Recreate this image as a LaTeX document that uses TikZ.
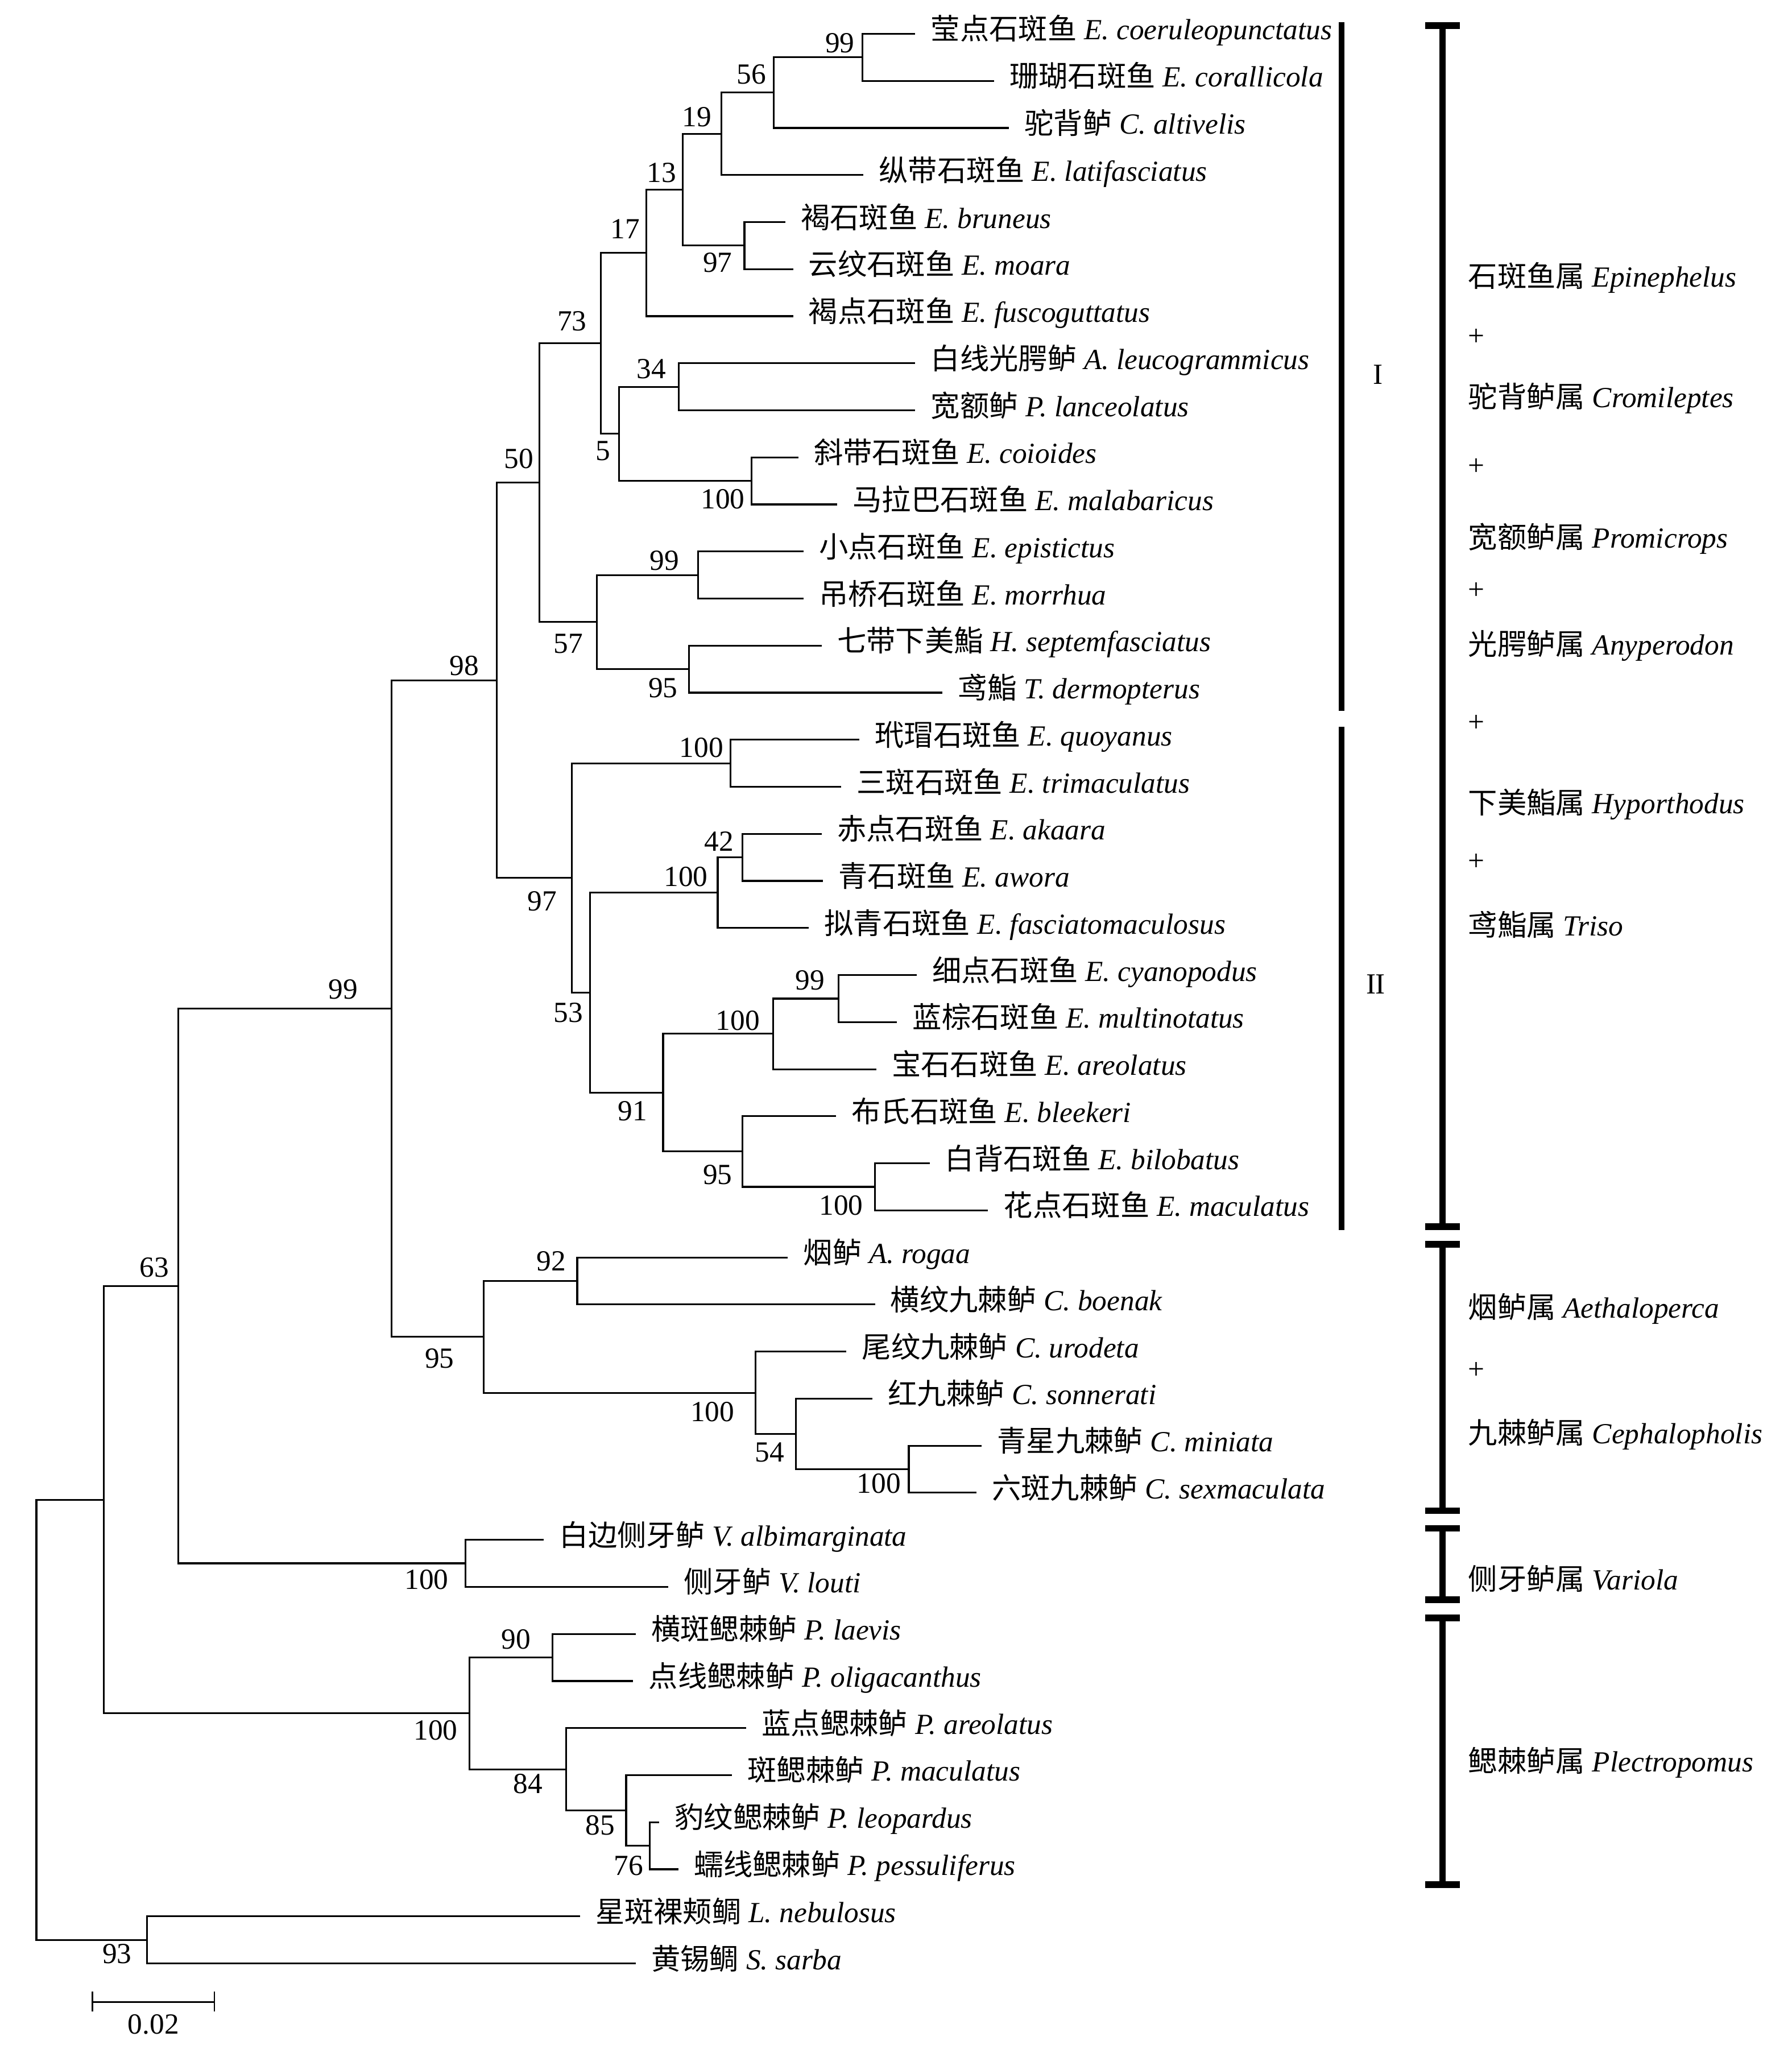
\documentclass[tikz,border=0pt]{standalone}
\usepackage{fontspec}
\setmainfont{Liberation Serif}
\newfontfamily\cjk{Noto Sans CJK SC}
\newcommand{\taxon}[2]{{\cjk #1} \textit{#2}}
\begin{document}
\begin{tikzpicture}[x=0.022859cm, y=-0.022859cm,
  every node/.style={font=\fontsize{14.6pt}{17pt}\selectfont},
  br/.style={line width=0.9pt},
  leaf/.style={anchor=west, inner xsep=7.6pt, inner ysep=0pt, text height=0.8em, text depth=0.2em},
  bs/.style={inner sep=0pt},
  genus/.style={anchor=west, inner sep=0pt, text height=0.8em, text depth=0.2em},
  cladebar/.style={line width=2.85pt},
  genbar/.style={line width=3.1pt},
  capline/.style={line width=3.3pt}]
\useasboundingbox (0,0) rectangle (1378,1573);

% ---------- leaves ----------
\node[leaf] (L1) at (704,26) {\taxon{莹点石斑鱼}{E. coeruleopunctatus}};
\node[leaf] (L2) at (764.5,62.2) {\taxon{珊瑚石斑鱼}{E. corallicola}};
\node[leaf] (L3) at (776,98.4) {\taxon{驼背鲈}{C. altivelis}};
\node[leaf] (L4) at (664,134.6) {\taxon{纵带石斑鱼}{E. latifasciatus}};
\node[leaf] (L5) at (604,170.8) {\taxon{褐石斑鱼}{E. bruneus}};
\node[leaf] (L6) at (610,207) {\taxon{云纹石斑鱼}{E. moara}};
\node[leaf] (L7) at (610,243.2) {\taxon{褐点石斑鱼}{E. fuscoguttatus}};
\node[leaf] (L8) at (704,279.4) {\taxon{白线光腭鲈}{A. leucogrammicus}};
\node[leaf] (L9) at (704,315.6) {\taxon{宽额鲈}{P. lanceolatus}};
\node[leaf] (L10) at (614,351.8) {\taxon{斜带石斑鱼}{E. coioides}};
\node[leaf] (L11) at (644,388) {\taxon{马拉巴石斑鱼}{E. malabaricus}};
\node[leaf] (L12) at (618,424.2) {\taxon{小点石斑鱼}{E. epistictus}};
\node[leaf] (L13) at (618,460.4) {\taxon{吊桥石斑鱼}{E. morrhua}};
\node[leaf] (L14) at (632,496.6) {\taxon{七带下美鮨}{H. septemfasciatus}};
\node[leaf] (L15) at (725,532.8) {\taxon{鸢鮨}{T. dermopterus}};
\node[leaf] (L16) at (661,569) {\taxon{玳瑁石斑鱼}{E. quoyanus}};
\node[leaf] (L17) at (647,605.2) {\taxon{三斑石斑鱼}{E. trimaculatus}};
\node[leaf] (L18) at (632,641.4) {\taxon{赤点石斑鱼}{E. akaara}};
\node[leaf] (L19) at (633,677.6) {\taxon{青石斑鱼}{E. awora}};
\node[leaf] (L20) at (622,713.8) {\taxon{拟青石斑鱼}{E. fasciatomaculosus}};
\node[leaf] (L21) at (705,750) {\taxon{细点石斑鱼}{E. cyanopodus}};
\node[leaf] (L22) at (690,786.2) {\taxon{蓝棕石斑鱼}{E. multinotatus}};
\node[leaf] (L23) at (674,822.4) {\taxon{宝石石斑鱼}{E. areolatus}};
\node[leaf] (L24) at (643,858.6) {\taxon{布氏石斑鱼}{E. bleekeri}};
\node[leaf] (L25) at (715,894.8) {\taxon{白背石斑鱼}{E. bilobatus}};
\node[leaf] (L26) at (760,931) {\taxon{花点石斑鱼}{E. maculatus}};
\node[leaf] (L27) at (606,967.2) {\taxon{烟鲈}{A. rogaa}};
\node[leaf] (L28) at (673,1003.4) {\taxon{横纹九棘鲈}{C. boenak}};
\node[leaf] (L29) at (651,1039.6) {\taxon{尾纹九棘鲈}{C. urodeta}};
\node[leaf] (L30) at (671,1075.8) {\taxon{红九棘鲈}{C. sonnerati}};
\node[leaf] (L31) at (755,1112) {\taxon{青星九棘鲈}{C. miniata}};
\node[leaf] (L32) at (751,1148.2) {\taxon{六斑九棘鲈}{C. sexmaculata}};
\node[leaf] (L33) at (418,1184.4) {\taxon{白边侧牙鲈}{V. albimarginata}};
\node[leaf] (L34) at (514,1220.6) {\taxon{侧牙鲈}{V. louti}};
\node[leaf] (L35) at (489,1256.8) {\taxon{横斑鳃棘鲈}{P. laevis}};
\node[leaf] (L36) at (487,1293) {\taxon{点线鳃棘鲈}{P. oligacanthus}};
\node[leaf] (L37) at (574,1329.2) {\taxon{蓝点鳃棘鲈}{P. areolatus}};
\node[leaf] (L38) at (563,1365.4) {\taxon{斑鳃棘鲈}{P. maculatus}};
\node[leaf] (L39) at (507,1401.6) {\taxon{豹纹鳃棘鲈}{P. leopardus}};
\node[leaf] (L40) at (522,1437.8) {\taxon{蠕线鳃棘鲈}{P. pessuliferus}};
\node[leaf] (L41) at (446,1474) {\taxon{星斑裸颊鲷}{L. nebulosus}};
\node[leaf] (L42) at (489,1510.2) {\taxon{黄锡鲷}{S. sarba}};

% ---------- internal nodes ----------
\coordinate (n1) at (663.4,44.1);
\coordinate (n2) at (595,71.25);
\coordinate (n3) at (555,102.9);
\coordinate (n4) at (572.6,188.9);
\coordinate (n5) at (525,145.9);
\coordinate (n6) at (497,194.6);
\coordinate (n7) at (522,297.5);
\coordinate (n8) at (578,369.9);
\coordinate (n9) at (476,333.7);
\coordinate (n10) at (462,264.1);
\coordinate (n11) at (537,442.3);
\coordinate (n12) at (530,514.7);
\coordinate (n13) at (459,478.5);
\coordinate (nI) at (415,371.3);
\coordinate (nA) at (562,587.1);
\coordinate (nB) at (571,659.5);
\coordinate (nC) at (552,686.6);
\coordinate (nD) at (645,768.1);
\coordinate (nE) at (594.5,795.2);
\coordinate (nF) at (673,912.9);
\coordinate (nG) at (571,885.7);
\coordinate (nH) at (510,840.5);
\coordinate (nJ) at (454,763.5);
\coordinate (nII) at (440,675.3);
\coordinate (nEpi) at (382,523.3);
\coordinate (nK) at (444,985.3);
\coordinate (nL) at (699,1130.1);
\coordinate (nM) at (612,1103);
\coordinate (nN) at (581,1071.3);
\coordinate (nO) at (372,1028.3);
\coordinate (nP) at (301,775.8);
\coordinate (nQ) at (358,1202.5);
\coordinate (nR) at (137,989.2);
\coordinate (nS) at (425,1274.9);
\coordinate (nT) at (499.6,1419.7);
\coordinate (nU) at (481.6,1392.6);
\coordinate (nV) at (435.6,1360.9);
\coordinate (nW) at (361,1317.9);
\coordinate (nX) at (80,1153.6);
\coordinate (nY) at (113,1492.1);
\coordinate (root) at (28,1322.9);

% ---------- branches ----------
\draw[br] (n1) |- (L1.west);  \draw[br] (n1) |- (L2.west);
\draw[br] (n2) |- (n1);       \draw[br] (n2) |- (L3.west);
\draw[br] (n3) |- (n2);       \draw[br] (n3) |- (L4.west);
\draw[br] (n4) |- (L5.west);  \draw[br] (n4) |- (L6.west);
\draw[br] (n5) |- (n3);       \draw[br] (n5) |- (n4);
\draw[br] (n6) |- (n5);       \draw[br] (n6) |- (L7.west);
\draw[br] (n7) |- (L8.west);  \draw[br] (n7) |- (L9.west);
\draw[br] (n8) |- (L10.west); \draw[br] (n8) |- (L11.west);
\draw[br] (n9) |- (n7);       \draw[br] (n9) |- (n8);
\draw[br] (n10) |- (n6);      \draw[br] (n10) |- (n9);
\draw[br] (n11) |- (L12.west); \draw[br] (n11) |- (L13.west);
\draw[br] (n12) |- (L14.west); \draw[br] (n12) |- (L15.west);
\draw[br] (n13) |- (n11);     \draw[br] (n13) |- (n12);
\draw[br] (nI) |- (n10);      \draw[br] (nI) |- (n13);
\draw[br] (nA) |- (L16.west); \draw[br] (nA) |- (L17.west);
\draw[br] (nB) |- (L18.west); \draw[br] (nB) |- (L19.west);
\draw[br] (nC) |- (nB);       \draw[br] (nC) |- (L20.west);
\draw[br] (nD) |- (L21.west); \draw[br] (nD) |- (L22.west);
\draw[br] (nE) |- (nD);       \draw[br] (nE) |- (L23.west);
\draw[br] (nF) |- (L25.west); \draw[br] (nF) |- (L26.west);
\draw[br] (nG) |- (L24.west); \draw[br] (nG) |- (nF);
\draw[br] (nH) |- (nE);       \draw[br] (nH) |- (nG);
\draw[br] (nJ) |- (nC);       \draw[br] (nJ) |- (nH);
\draw[br] (nII) |- (nA);      \draw[br] (nII) |- (nJ);
\draw[br] (nEpi) |- (nI);     \draw[br] (nEpi) |- (nII);
\draw[br] (nK) |- (L27.west); \draw[br] (nK) |- (L28.west);
\draw[br] (nL) |- (L31.west); \draw[br] (nL) |- (L32.west);
\draw[br] (nM) |- (L30.west); \draw[br] (nM) |- (nL);
\draw[br] (nN) |- (L29.west); \draw[br] (nN) |- (nM);
\draw[br] (nO) |- (nK);       \draw[br] (nO) |- (nN);
\draw[br] (nP) |- (nEpi);     \draw[br] (nP) |- (nO);
\draw[br] (nQ) |- (L33.west); \draw[br] (nQ) |- (L34.west);
\draw[br] (nR) |- (nP);       \draw[br] (nR) |- (nQ);
\draw[br] (nS) |- (L35.west); \draw[br] (nS) |- (L36.west);
\draw[br] (nT) |- (L39.west); \draw[br] (nT) |- (L40.west);
\draw[br] (nU) |- (L38.west); \draw[br] (nU) |- (nT);
\draw[br] (nV) |- (L37.west); \draw[br] (nV) |- (nU);
\draw[br] (nW) |- (nS);       \draw[br] (nW) |- (nV);
\draw[br] (nX) |- (nR);       \draw[br] (nX) |- (nW);
\draw[br] (nY) |- (L41.west); \draw[br] (nY) |- (L42.west);
\draw[br] (root) |- (nX);     \draw[br] (root) |- (nY);

% ---------- bootstrap values ----------
\node[bs] (b1) at (646,33) {99};
\node[bs] (b2) at (578,57) {56};
\node[bs] (b3) at (536,90) {19};
\node[bs] (b4) at (552,202) {97};
\node[bs] (b5) at (509,133) {13};
\node[bs] (b6) at (481,176) {17};
\node[bs] (b7) at (501,284) {34};
\node[bs] (b8) at (556,384) {100};
\node[bs] (b9) at (464,347) {5};
\node[bs] (b10) at (440,247) {73};
\node[bs] (b11) at (511,431) {99};
\node[bs] (b12) at (510,529) {95};
\node[bs] (b13) at (437,495) {57};
\node[bs] (bI) at (399,353) {50};
\node[bs] (bA) at (539.5,575) {100};
\node[bs] (bB) at (553,647) {42};
\node[bs] (bC) at (527.5,674.5) {100};
\node[bs] (bII) at (417,693) {97};
\node[bs] (bJ) at (437,779) {53};
\node[bs] (bD) at (623,754) {99};
\node[bs] (bE) at (567.5,785) {100};
\node[bs] (bH) at (486.5,854.5) {91};
\node[bs] (bG) at (552,903.5) {95};
\node[bs] (bF) at (647,927) {100};
\node[bs] (bEpi) at (357,512) {98};
\node[bs] (bK) at (424,970) {92};
\node[bs] (bL) at (676,1141) {100};
\node[bs] (bM) at (592,1117) {54};
\node[bs] (bN) at (548,1086) {100};
\node[bs] (bO) at (338,1045) {95};
\node[bs] (bP) at (264,761) {99};
\node[bs] (bQ) at (328,1215) {100};
\node[bs] (bR) at (118.6,975) {63};
\node[bs] (bS) at (397,1261) {90};
\node[bs] (bV) at (406,1372) {84};
\node[bs] (bU) at (461.5,1404) {85};
\node[bs] (bT) at (483.6,1435) {76};
\node[bs] (bW) at (335,1331) {100};
\node[bs] (bY) at (90,1503) {93};

% ---------- scale bar ----------
\draw[br] (71,1540) -- (165,1540);
\draw[line width=0.7pt] (71,1532) -- (71,1547);
\draw[line width=0.7pt] (165,1532) -- (165,1547);
\node[bs] (scale) at (118,1557) {0.02};

% ---------- clade bars ----------
\draw[cladebar] (1032,17) -- (1032,547);
\draw[cladebar] (1032,559) -- (1032,946);
\node[bs] (cI) at (1060,288) {I};
\node[bs] (cII) at (1058,757) {I\kern-0.02em I};

% ---------- genus bars ----------
\draw[genbar] (1109.5,19.7) -- (1109.5,943.5);
\draw[capline] (1096,19.7) -- (1123,19.7);
\draw[capline] (1096,943.5) -- (1123,943.5);
\draw[genbar] (1109.5,957) -- (1109.5,1162);
\draw[capline] (1096,957) -- (1123,957);
\draw[capline] (1096,1162) -- (1123,1162);
\draw[genbar] (1109.5,1175.5) -- (1109.5,1230.5);
\draw[capline] (1096,1175.5) -- (1123,1175.5);
\draw[capline] (1096,1230.5) -- (1123,1230.5);
\draw[genbar] (1109.5,1244.5) -- (1109.5,1449.5);
\draw[capline] (1096,1244.5) -- (1123,1244.5);
\draw[capline] (1096,1449.5) -- (1123,1449.5);

% ---------- genus labels ----------
\node[genus] (g1) at (1129,216) {\taxon{石斑鱼属}{Epinephelus}};
\node[genus] (p1) at (1129,261) {+};
\node[genus] (g2) at (1129,309) {\taxon{驼背鲈属}{Cromileptes}};
\node[genus] (p2) at (1129,361) {+};
\node[genus] (g3) at (1129,417) {\taxon{宽额鲈属}{Promicrops}};
\node[genus] (p3) at (1129,456) {+};
\node[genus] (g4) at (1129,499) {\taxon{光腭鲈属}{Anyperodon}};
\node[genus] (p4) at (1129,558) {+};
\node[genus] (g5) at (1129,621) {\taxon{下美鮨属}{Hyporthodus}};
\node[genus] (p5) at (1129,665) {+};
\node[genus] (g6) at (1129,715) {\taxon{鸢鮨属}{Triso}};
\node[genus] (g7) at (1129,1009) {\taxon{烟鲈属}{Aethaloperca}};
\node[genus] (p7) at (1129,1056) {+};
\node[genus] (g8) at (1129,1106) {\taxon{九棘鲈属}{Cephalopholis}};
\node[genus] (g9) at (1129,1218) {\taxon{侧牙鲈属}{Variola}};
\node[genus] (g10) at (1129,1358) {\taxon{鳃棘鲈属}{Plectropomus}};
\end{tikzpicture}
\end{document}
